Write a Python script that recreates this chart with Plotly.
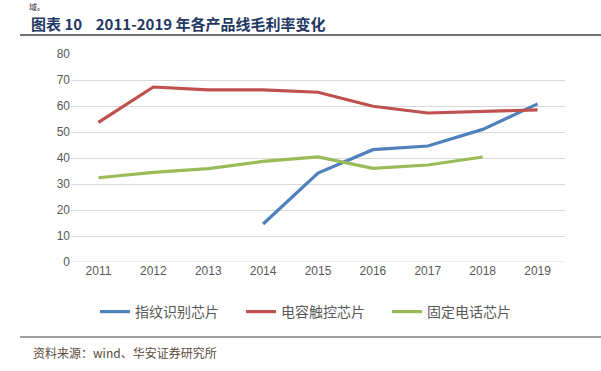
import plotly.graph_objects as go

years = ["2011", "2012", "2013", "2014", "2015", "2016", "2017", "2018", "2019"]
fingerprint = [None, None, None, 14.6, 34.2, 43.2, 44.6, 51.0, 60.8]
touch = [53.7, 67.3, 66.2, 66.2, 65.3, 59.9, 57.3, 58.0, 58.5]
phone = [32.4, 34.5, 35.9, 38.7, 40.4, 36.0, 37.3, 40.4, None]
names = ["指纹识别芯片", "电容触控芯片", "固定电话芯片"]
colors = ["#4F81BD", "#C0504D", "#9BBB59"]

W, H = 601, 371
L, R, T, B = 71, 565, 54, 262

fig = go.Figure()
for vals, name, c in zip([fingerprint, touch, phone], names, colors):
    fig.add_trace(go.Scatter(x=years, y=vals, name=name, mode="lines",
                             line=dict(color=c, width=3.2), connectgaps=False))

font_cjk = "Noto Sans CJK SC, sans-serif"

def px(x):
    return (x - L) / (R - L)

def py(y):
    return (B - y) / (B - T)

fig.update_layout(
    width=W, height=H,
    margin=dict(l=L, r=W - R, t=T, b=H - B, autoexpand=False),
    paper_bgcolor="white", plot_bgcolor="white",
    font=dict(family=font_cjk, size=12, color="#595959"),
    showlegend=True,
    legend=dict(orientation="h", x=px(95), xanchor="left", y=py(312), yanchor="middle",
                font=dict(size=14, color="#595959"), itemwidth=30,
                entrywidth=101, entrywidthmode="pixels", tracegroupgap=0),
    xaxis=dict(type="category", range=[-0.5, 8.5], showgrid=False, showline=False,
               ticks="", tickfont=dict(size=12, color="#595959", family="Liberation Sans, sans-serif"),
               fixedrange=True),
    yaxis=dict(range=[0, 80], dtick=10, showgrid=True, gridcolor="#D9D9D9", gridwidth=1,
               zeroline=False, showline=False, ticks="",
               tickfont=dict(size=12, color="#595959", family="Liberation Sans, sans-serif"),
               fixedrange=True),
)
fig.add_shape(type="line", xref="paper", yref="y", x0=0, x1=1, y0=0, y1=0,
              line=dict(color="#D9D9D9", width=1), layer="below")

fig.add_annotation(text="图表 10    2011-2019 年各产品线毛利率变化", xref="paper", yref="paper",
                   x=px(30), y=py(23), xanchor="left", yanchor="middle", showarrow=False,
                   borderpad=0,
                   font=dict(family="Noto Sans CJK SC", size=15, color="#1F3864", weight="bold"))
fig.add_annotation(text="域。", xref="paper", yref="paper",
                   x=px(28), y=py(0), xanchor="left", yanchor="top", showarrow=False,
                   borderpad=0,
                   font=dict(family="Noto Sans CJK SC", size=8, color="#333333"))
fig.add_shape(type="line", xref="paper", yref="paper", x0=px(20), x1=px(W), y0=py(35), y1=py(35),
              line=dict(color="#404040", width=1.5))
fig.add_shape(type="line", xref="paper", yref="paper", x0=px(20), x1=px(W), y0=py(337), y1=py(337),
              line=dict(color="#808080", width=1.5))
fig.add_annotation(text="资料来源：wind、华安证券研究所", xref="paper", yref="paper",
                   x=px(31), y=py(352), xanchor="left", yanchor="middle", showarrow=False,
                   font=dict(family="Noto Sans CJK SC", size=12, color="#5A4A3A"))

fig.write_html("out.html", config={"displayModeBar": False},
               post_script="document.body.style.margin='0';document.body.style.padding='0';")
